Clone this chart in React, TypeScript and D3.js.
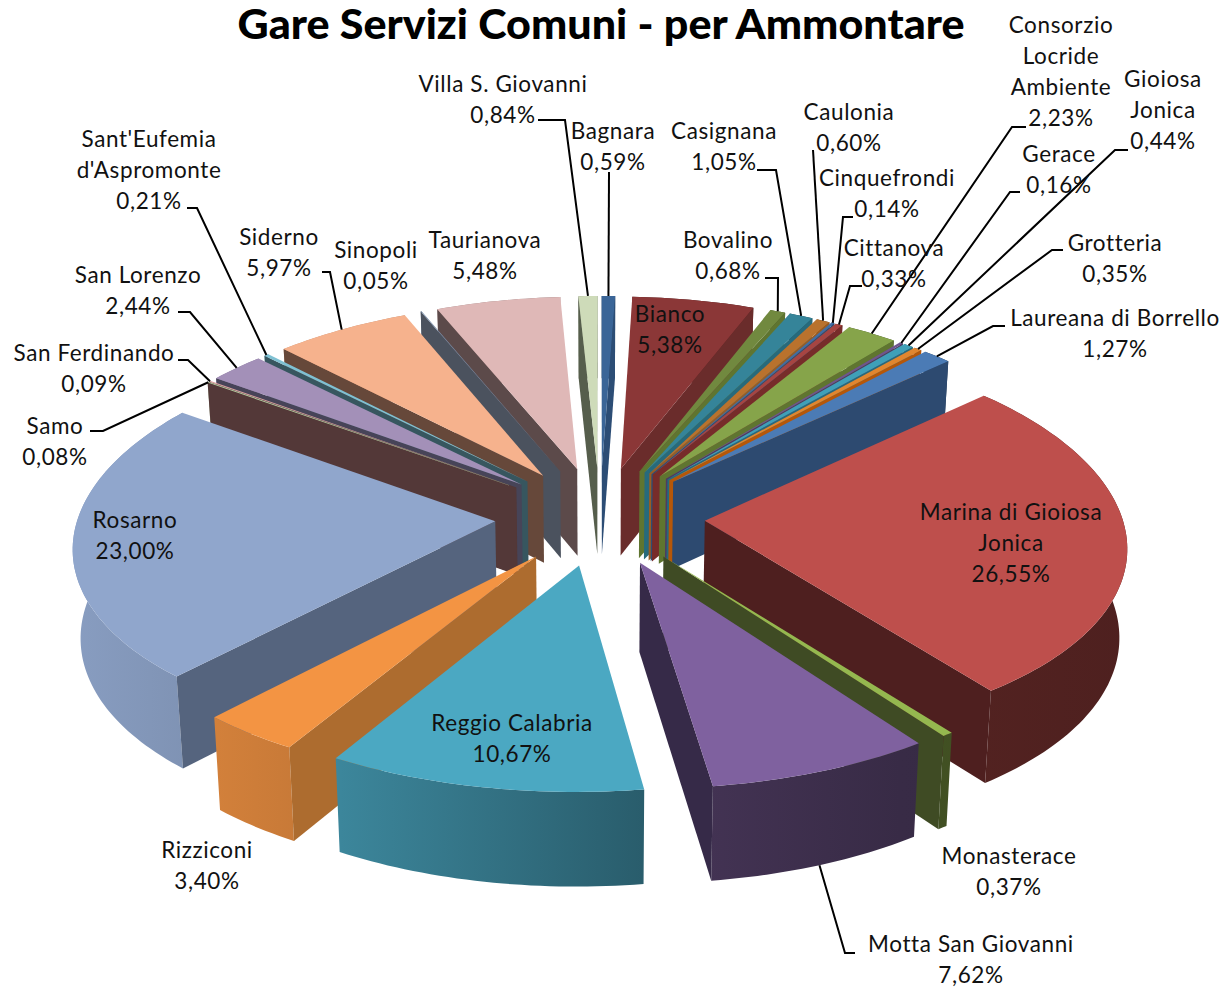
import React from "react";
import * as d3 from "d3";

const W = 1222, H = 987;
const values = [0.59,5.38,0.68,1.05,0.60,0.14,0.33,2.23,0.16,0.44,0.35,1.27,26.55,0.37,7.62,10.67,3.40,23.00,0.08,0.09,2.44,0.21,5.97,0.05,5.48,0.84];
const topColors = ["#3A6597","#8B3737","#71893F","#358499","#B9722D","#3F6EA5","#A64542","#86A44A","#6F548F","#3FA0B8","#E1862F","#4B7BB5","#BE4F4C","#95B84F","#7F619F","#4BA8C2","#F39443","#90A6CC","#B5CBA0","#D9A09E","#A390B8","#7FC1D3","#F6B28D","#7A8DA8","#DFB8B7","#CEDBB9"];
const wallColors = ["#2C4D75","#6A2C2B","#5F7530","#276A7C","#9A5C22","#2C4D75","#772C2A","#5F7530","#4D3B62","#276A7C","#B65708","#2D4A70","#4E1F1F","#3F4B24","#362A48","#2A6678","#AD6C2F","#55647E","#533838","#533838","#474458","#37565F","#66483A","#4B525E","#5C4A4A","#565E4C"];
const labelLines = [["Bagnara","0,59%"],["Bianco","5,38%"],["Bovalino","0,68%"],["Casignana","1,05%"],["Caulonia","0,60%"],["Cinquefrondi","0,14%"],["Cittanova","0,33%"],["Consorzio","Locride","Ambiente","2,23%"],["Gerace","0,16%"],["Gioiosa","Jonica","0,44%"],["Grotteria","0,35%"],["Laureana di Borrello","1,27%"],["Marina di Gioiosa","Jonica","26,55%"],["Monasterace","0,37%"],["Motta San Giovanni","7,62%"],["Reggio Calabria","10,67%"],["Rizziconi","3,40%"],["Rosarno","23,00%"],["Samo","0,08%"],["San Ferdinando","0,09%"],["San Lorenzo","2,44%"],["Sant'Eufemia","d'Aspromonte","0,21%"],["Siderno","5,97%"],["Sinopoli","0,05%"],["Taurianova","5,48%"],["Villa S. Giovanni","0,84%"]];
const labelX = [613,670,728,724,849,887,894,1061,1059,1163,1115,1115,1011,1009,971,512,207,135,55,94,138,149,279,376,485,503];
const labelY = [131,314,240,131,112,178,248,25,154,79,243,318,512,856,944,723,850,520,426,353,275,139,237,250,240,84];
// leader elbows, in label order; null where the label has none
const leaders: (number[][] | null)[] = [[[609,172]],null,[[765,278],[778,278]],[[757,170],[776,170]],[[813,150]],[[853,217],[843,217]],[[862,286],[850,286]],[[1026,127],[1012,127]],[[1020,192],[1010,192]],[[1128,150],[1115,150]],[[1063,250],[1052,250]],[[1005,326],[993,326]],null,null,[[855,953],[845,953]],null,null,null,[[90,431],[103,431]],[[178,360],[188,360]],[[178,312],[190,312]],[[187,208],[197,208]],[[322,272],[330,272]],null,null,[[538,120],[565,120]]];

const cx = 600, cy = 516, R = 417, EXPLODE = 105, TILT = 0.47, PERSP = 0.116, NORM = 528, DEPTH = 88, SHRINK = 0.985;

type P = [number, number];
function project(X: number, Y: number, bottom = false): P {
  const s = 1 / (1 + (PERSP * Y) / NORM);
  const x = cx + X * Math.pow(s, 1.25);
  const y = cy - TILT * Y * s;
  if (!bottom) return [x, y];
  return [cx + (x - cx) * SHRINK, y + DEPTH * Math.pow(s, 0.6)];
}

const arcs = d3.pie<number>().sort(null).startAngle(0).endAngle(2 * Math.PI)(values);
const shade = d3.scaleLinear<number>().domain([60, 340, 650, 900, 1140]).range([0.95, 0.8, 0.55, 0.44, 0.41]);
const line = d3.line<P>().x(d => d[0]).y(d => d[1]);

function edgePoint(a: number, mid: number, radius: number, bottom = false): P {
  const ox = EXPLODE * Math.sin(mid), oy = EXPLODE * Math.cos(mid);
  return project(ox + radius * Math.sin(a), oy + radius * Math.cos(a), bottom);
}

const slices = arcs.map((d, i) => {
  const mid = (d.startAngle + d.endAngle) / 2;
  const n = Math.max(2, Math.ceil((d.endAngle - d.startAngle) / 0.02));
  const angles = d3.range(n + 1).map(k => d.startAngle + ((d.endAngle - d.startAngle) * k) / n);
  const topArc = angles.map(a => edgePoint(a, mid, R));
  const botArc = angles.map(a => edgePoint(a, mid, R, true));
  const apexT = edgePoint(0, mid, 0);
  const apexB = edgePoint(0, mid, 0, true);
  const wallA: P[] = [apexT, topArc[0], botArc[0], apexB];
  const wallB: P[] = [apexT, topArc[n], botArc[n], apexB];
  const front = Math.cos(mid) < -0.5;
  return {
    i, mid, depthKey: Math.cos(mid), topArc, botArc, apexT, wallA, wallB,
    showA: d3.polygonArea(wallA) > 0,
    showB: d3.polygonArea(wallB) < 0,
    anchor: edgePoint(mid, mid, R, front),
  };
});
const painter = [...slices].sort((a, b) => b.depthKey - a.depthKey);
const closed = (pts: P[]) => (line(pts) as string) + "Z";
const font = "Lato, 'Open Sans', sans-serif";

export default function App() {
  return (
    <svg width={W} height={H} viewBox={`0 0 ${W} ${H}`} style={{ position: "absolute", left: 0, top: 0, background: "#fff" }}>
      <defs>
        {values.map((_, i) => {
          const base = d3.rgb(topColors[i]);
          const stops = [60, 340, 650, 900, 1140];
          return (
            <linearGradient key={i} id={`side${i}`} gradientUnits="userSpaceOnUse" x1={60} x2={1140} y1={0} y2={0}>
              {stops.map(x => {
                const f = shade(x);
                return <stop key={x} offset={(x - 60) / 1080} stopColor={d3.rgb(base.r * f, base.g * f, base.b * f).formatHex()} />;
              })}
            </linearGradient>
          );
        })}
      </defs>
      {painter.map(s => (
        <g key={s.i}>
          <path d={closed([...s.topArc, ...[...s.botArc].reverse()])} fill={`url(#side${s.i})`} />
          {s.showA && <path d={closed(s.wallA)} fill={wallColors[s.i]} />}
          {s.showB && <path d={closed(s.wallB)} fill={wallColors[s.i]} />}
          <path d={closed([s.apexT, ...s.topArc])} fill={topColors[s.i]} />
        </g>
      ))}
      {leaders.map((pts, i) => pts && (
        <path key={i} d={line([...(pts as P[]), slices[i].anchor]) as string} fill="none" stroke="#000" strokeWidth={2} />
      ))}
      <text x={601} y={39} textAnchor="middle" fontFamily={font} fontWeight={900} fontSize={41} textLength={727} lengthAdjust="spacingAndGlyphs" fill="#000">Gare Servizi Comuni - per Ammontare</text>
      {labelLines.map((lines, i) => (
        <text key={i} textAnchor="middle" fontFamily={font} fontSize={22.5} letterSpacing={0.6} fill="#111">
          {lines.map((t, k) => (
            <tspan key={k} x={labelX[i]} y={labelY[i] + 8 + k * 31}>{t}</tspan>
          ))}
        </text>
      ))}
    </svg>
  );
}
